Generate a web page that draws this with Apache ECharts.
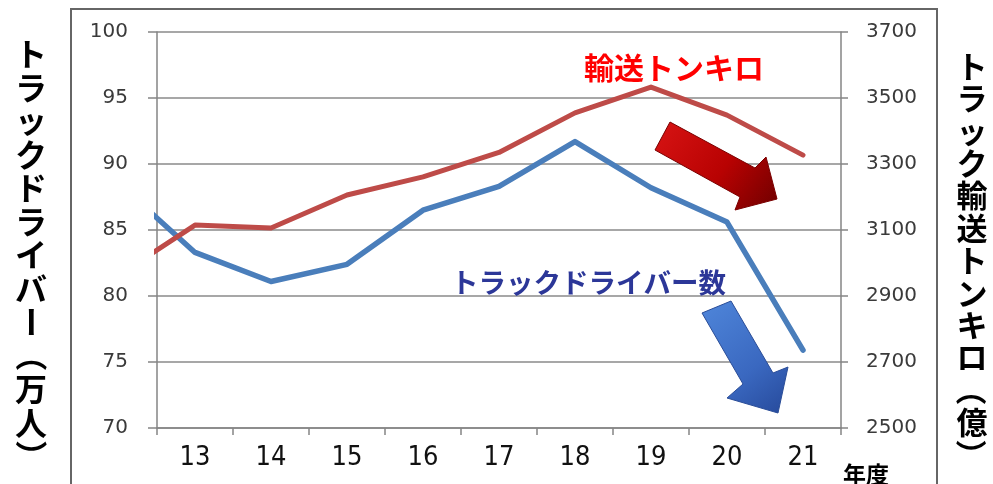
<!DOCTYPE html>
<html>
<head>
<meta charset="utf-8">
<script src="https://cdn.jsdelivr.net/npm/echarts@6/dist/echarts.min.js"></script>
<style>
  html, body { margin: 0; padding: 0; background: #fff; }
  #chart { width: 993px; height: 484px; }
</style>
</head>
<body>
<div id="chart"></div>
<script>
// Fiscal-year labels shown under the x axis (Heisei years)
const yearLabels = ['13', '14', '15', '16', '17', '18', '19', '20', '21'];
// Fiscal years of the plotted points (year 12 runs in from the left edge)
const fiscalYears = [12, 13, 14, 15, 16, 17, 18, 19, 20, 21];
// Number of truck drivers (10,000 persons)
const drivers = [88.5, 83.3, 81.1, 82.4, 86.5, 88.3, 91.7, 88.2, 85.6, 75.9];
// Truck freight ton-kilometres (100 million ton-km)
const tonKm = [2963, 3115, 3106, 3206, 3261, 3335, 3455, 3533, 3448, 3327];

// Vertical axis titles, one character per cell
const leftTitle = ['ト','ラ','ッ','ク','ド','ラ','イ','バ','ー','（','万','人','）'];
const rightTitle = ['ト','ラ','ッ','ク','輸','送','ト','ン','キ','ロ','（','億','）'];

const chart = echarts.init(document.getElementById('chart'), null, { renderer: 'canvas' });

const numFont = 'DejaVu Sans, Verdana, sans-serif';
const cjkFont = '"Noto Sans CJK JP", sans-serif';

// Long vowel mark and brackets are turned a quarter clockwise in vertical writing
const turned = new Set(['ー', '（', '）']);
function verticalText(chars, cx, firstCenter, step, size) {
  return chars.map((ch, i) => ({
    type: 'text', z: 10, silent: true,
    x: cx, y: firstCenter + i * step,
    rotation: turned.has(ch) ? -Math.PI / 2 : 0,
    style: {
      text: ch,
      font: 'bold ' + size + 'px ' + cjkFont,
      fill: '#000000',
      align: 'center',
      verticalAlign: 'middle'
    }
  }));
}

const option = {
  backgroundColor: '#ffffff',
  animation: false,
  grid: { left: 157, right: 152, top: 32, bottom: 56, containLabel: false },
  xAxis: [
    {
      type: 'category',
      data: yearLabels,
      boundaryGap: true,
      axisLine: { show: true, lineStyle: { color: '#858585', width: 1.5 } },
      axisTick: { show: true, length: 7, alignWithLabel: false, lineStyle: { color: '#858585', width: 1.5 } },
      axisLabel: {
        margin: 16,
        fontFamily: '"Liberation Sans Narrow", "DejaVu Sans Condensed", sans-serif',
        fontSize: 27,
        color: '#111111'
      },
      splitLine: { show: false }
    },
    {
      type: 'value',
      min: 12.5,
      max: 21.5,
      show: false
    }
  ],
  yAxis: [
    {
      type: 'value',
      min: 70,
      max: 100,
      interval: 5,
      position: 'left',
      axisLine: { show: true, lineStyle: { color: '#858585', width: 1.5 } },
      axisTick: { show: true, length: 9, lineStyle: { color: '#858585', width: 1.5 } },
      axisLabel: { margin: 29, fontFamily: numFont, fontSize: 20, color: '#3a3a3a' },
      splitLine: { show: true, lineStyle: { color: '#8a8a8a', width: 1.5 } }
    },
    {
      type: 'value',
      min: 2500,
      max: 3700,
      interval: 200,
      position: 'right',
      axisLine: { show: true, lineStyle: { color: '#858585', width: 1.5 } },
      axisTick: { show: true, length: 7, lineStyle: { color: '#858585', width: 1.5 } },
      axisLabel: {
        margin: 25, fontFamily: numFont, fontSize: 20, color: '#3a3a3a',
        formatter: (v) => String(v)
      },
      splitLine: { show: false }
    }
  ],
  series: [
    {
      name: 'トラックドライバー数',
      type: 'line',
      xAxisIndex: 1,
      yAxisIndex: 0,
      data: fiscalYears.map((y, i) => [y, drivers[i]]),
      showSymbol: false,
      symbol: 'none',
      clip: true,
      lineStyle: { color: '#4a7ebb', width: 5.5, cap: 'round', join: 'round' }
    },
    {
      name: '輸送トンキロ',
      type: 'line',
      xAxisIndex: 1,
      yAxisIndex: 1,
      data: fiscalYears.map((y, i) => [y, tonKm[i]]),
      showSymbol: false,
      symbol: 'none',
      clip: true,
      lineStyle: { color: '#be4b48', width: 5, cap: 'round', join: 'round' }
    }
  ],
  graphic: [
    // outer frame
    {
      type: 'rect', z: 0, silent: true,
      shape: { x: 71, y: 9, width: 866, height: 500 },
      style: { fill: 'none', stroke: '#666666', lineWidth: 2 }
    },
    ...verticalText(leftTitle, 31, 54, 33.5, 32),
    ...verticalText(rightTitle, 972, 66, 32.4, 31),
    {
      type: 'text', z: 10,
      x: 843, y: 463,
      style: {
        text: '年度',
        font: 'bold 23px ' + cjkFont,
        fill: '#000000',
        align: 'left',
        verticalAlign: 'top'
      }
    },
    // series captions
    {
      type: 'text', z: 10,
      x: 584, y: 68,
      style: {
        text: '輸送トンキロ',
        font: 'bold 30px ' + cjkFont,
        fill: '#ff0000',
        align: 'left',
        verticalAlign: 'middle'
      }
    },
    {
      type: 'text', z: 10,
      x: 451, y: 283,
      style: {
        text: 'トラックドライバー数',
        font: 'bold 27.5px ' + cjkFont,
        fill: '#2c3798',
        align: 'left',
        verticalAlign: 'middle'
      }
    },
    // downward trend arrows
    {
      type: 'polygon', z: 20, silent: true,
      shape: { points: [[670, 122], [755, 168], [766, 157], [777, 199], [735, 210], [740, 197], [655, 150]] },
      style: {
        fill: new echarts.graphic.LinearGradient(0, 0, 1, 1, [
          { offset: 0, color: '#d81414' },
          { offset: 0.55, color: '#b80202' },
          { offset: 1, color: '#6e0000' }
        ]),
        stroke: '#7a0000',
        lineWidth: 1
      }
    },
    {
      type: 'polygon', z: 20, silent: true,
      shape: { points: [[702, 313], [731, 301], [773, 373], [788, 367], [778, 413], [727, 398], [743, 384]] },
      style: {
        fill: new echarts.graphic.LinearGradient(0, 0, 1, 1, [
          { offset: 0, color: '#4f86da' },
          { offset: 0.6, color: '#3a68c0' },
          { offset: 1, color: '#26499a' }
        ]),
        stroke: '#2a4d98',
        lineWidth: 1
      }
    }
  ]
};

chart.setOption(option);
</script>
</body>
</html>
